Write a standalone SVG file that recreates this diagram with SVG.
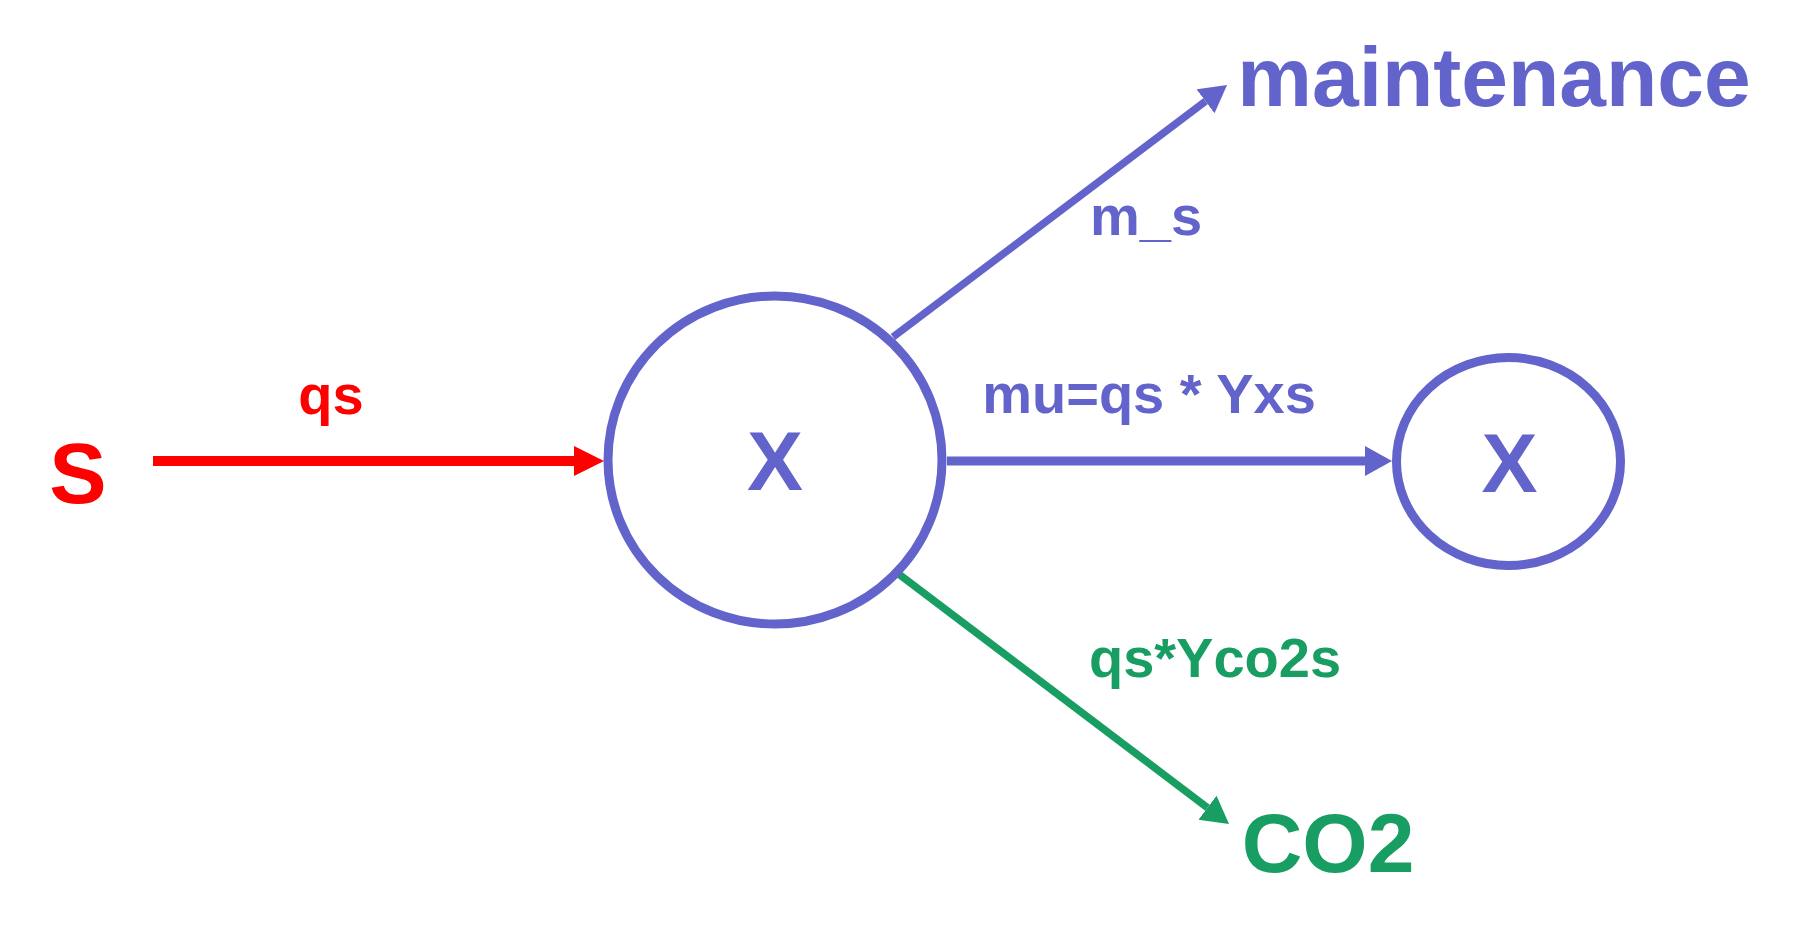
<svg xmlns="http://www.w3.org/2000/svg" width="1813" height="943" viewBox="0 0 1813 943">
<style>
text{font-family:"Liberation Sans",Arial,sans-serif;font-weight:bold;text-anchor:middle}
.red{fill:#FF0000}.pur{fill:#6363CC}.grn{fill:#189D63}
.big{font-size:84px}.sm{font-size:56px}
.node{fill:#FFFFFF;stroke:#6363CC;stroke-width:9}
.c{fill:none}
</style>
<defs>
<marker id="ahR" markerUnits="userSpaceOnUse" markerWidth="40" markerHeight="40" refX="0" refY="15" orient="auto" viewBox="0 0 40 40"><path d="M0,0 L30,15 L0,30 Z" fill="#FF0000"/></marker>
<marker id="ahP" markerUnits="userSpaceOnUse" markerWidth="40" markerHeight="40" refX="0" refY="15" orient="auto" viewBox="0 0 40 40"><path d="M0,0 L27,15 L0,30 Z" fill="#6363CC"/></marker>
<marker id="ahG" markerUnits="userSpaceOnUse" markerWidth="40" markerHeight="40" refX="0" refY="15" orient="auto" viewBox="0 0 40 40"><path d="M0,0 L27,15 L0,30 Z" fill="#189D63"/></marker>
</defs>
<rect width="1813" height="943" fill="#FFFFFF"/>
<g id="connectors">
<line class="c" x1="153" y1="461" x2="574" y2="461" stroke="#FF0000" stroke-width="10" marker-end="url(#ahR)"/>
<line class="c" x1="947" y1="461" x2="1365" y2="461" stroke="#6363CC" stroke-width="9" marker-end="url(#ahP)"/>
<line class="c" x1="893" y1="337" x2="1205.5" y2="101.3" stroke="#6363CC" stroke-width="7.5" marker-end="url(#ahP)"/>
<line class="c" x1="896" y1="572" x2="1207.5" y2="807.7" stroke="#189D63" stroke-width="7.5" marker-end="url(#ahG)"/>
<text class="sm red" x="331" y="414">qs</text>
<text class="sm pur" x="1146" y="235">m_s</text>
<text class="sm pur" x="1149" y="413">mu=qs * Yxs</text>
<text class="sm grn" x="1215" y="677">qs*Yco2s</text>
</g>
<g id="node-S"><text class="red" style="font-size:86px" x="78" y="503">S</text></g>
<g id="node-X1"><ellipse class="node" cx="775" cy="460" rx="167" ry="164"/><text class="big pur" x="775" y="490">X</text></g>
<g id="node-X2"><ellipse class="node" cx="1508.5" cy="461.5" rx="112" ry="104"/><text class="big pur" x="1509.5" y="492">X</text></g>
<g id="node-maintenance"><text class="big pur" x="1494" y="106">maintenance</text></g>
<g id="node-CO2"><text class="big grn" x="1328" y="872">CO2</text></g>
</svg>
